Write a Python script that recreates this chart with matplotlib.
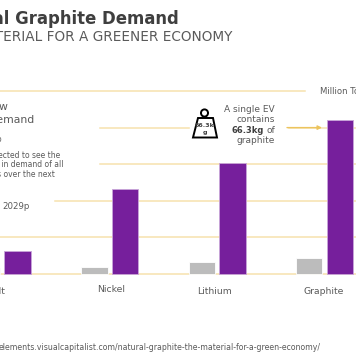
import matplotlib
matplotlib.use('Agg')
import matplotlib.pyplot as plt
from matplotlib.patches import Polygon, Circle

W, H = 356, 364

metals = ['Cobalt', 'Nickel', 'Lithium', 'Graphite']
demand_2018 = [0.16, 0.20, 0.33, 0.43]
demand_2029 = [0.63, 2.31, 3.02, 4.22]
grid_values = [0, 1, 2, 3, 4, 5]

PURPLE = '#761f9c'
GREY = '#bcbcbc'
GRID = '#f6e2ae'
TEXT = '#5a5a5a'
DARK = '#3f3f3f'

plt.rcParams['font.family'] = ['DejaVu Sans']

fig = plt.figure(figsize=(W / 100, H / 100), dpi=100)
ax = fig.add_axes([0, 0, 1, 1])
ax.axis('off')

# category 0 sits at pixel 2, spacing 107.4px; value 0 at pixel 274, 36.6px per unit
STEP = 107.4
ax.set_xlim(-2 / STEP, (W - 2) / STEP)
ax.set_ylim(-(H - 274) / 36.6, 274 / 36.6)


def cat(x):
    return (x - 2) / STEP


def px(x, y):
    return x / W, 1 - y / H


def txt(x, y, s, size, color=TEXT, ha='left', weight='normal'):
    fig.text(*px(x, y), s, fontsize=size, color=color, ha=ha, va='baseline', fontweight=weight)


# gridlines, with the gaps the annotations leave
starts = [0, 0, 55, 100, 100, 0]
for val, start in zip(grid_values, starts):
    end = 305 if val == 5 else W
    ax.plot([cat(start), cat(end)], [val, val], color=GRID, lw=1.1, zorder=1)

# white patch behind the EV note
ax.fill_between([cat(190), cat(287)], 3.55, 4.4, color='white', zorder=2)

bar_w = 26.4 / STEP
for i in range(len(metals)):
    ax.bar(i - 15 / STEP, demand_2018[i], bar_w, color=GREY, edgecolor='white', lw=0.6, zorder=3)
    ax.bar(i + 15.5 / STEP, demand_2029[i], bar_w, color=PURPLE, edgecolor='#c9a6d9', lw=0.6, zorder=3)

# header
txt(179, 24, 'Natural Graphite Demand', 11.9, DARK, ha='right', weight='bold')
txt(232, 41, 'THE MATERIAL FOR A GREENER ECONOMY', 9.85, TEXT, ha='right')
txt(320, 94, 'Million Tonnes', 6.1, TEXT)

# left note
txt(7, 110, 'w', 7.8, TEXT, ha='right')
txt(35, 123, 'Demand', 7.8, TEXT, ha='right')
txt(1, 142, 'o', 5.5, TEXT, ha='right')
txt(60, 158, 'Expected to see the', 5.5, TEXT, ha='right')
txt(64, 167, 'growth in demand of all', 5.5, TEXT, ha='right')
txt(55, 176.5, 'metals over the next', 5.5, TEXT, ha='right')
txt(2, 209, '2029p', 6.2, TEXT)

# category labels
label_x = [-9.5, 111, 214.5, 323.5]
label_y = [294, 292, 294, 294]
for name, x, y in zip(metals, label_x, label_y):
    txt(x, y, name, 6.7, TEXT, ha='center')

# EV note
for y, s in zip([112, 122.5, 143.5], ['A single EV', 'contains', 'graphite']):
    txt(275, y, s, 6.5, TEXT, ha='right')
txt(264, 133, '66.3kg', 6.0, DARK, ha='right', weight='bold')
txt(275, 133, 'of', 6.5, TEXT, ha='right')
ax.annotate('', xy=(cat(322), 4.0), xytext=(cat(287), 4.0),
            arrowprops=dict(arrowstyle='-|>', color='#ecc45e', lw=1, mutation_scale=6,
                            shrinkA=0, shrinkB=0), zorder=4)

# weight icon
tr = fig.transFigure
fig.add_artist(Polygon([px(198, 118), px(213, 118), px(217, 137.5), px(193, 137.5)], closed=True,
                       facecolor='white', edgecolor='black', lw=1.4, transform=tr))
fig.add_artist(Circle(px(204.5, 113), 3.6 / H, facecolor='white', edgecolor='black', lw=1.4, transform=tr))
txt(205, 127, '66.3k', 4.6, DARK, ha='center', weight='bold')
txt(205, 134, 'g', 4.6, DARK, ha='center', weight='bold')

# source
txt(320.5, 350, 'elements.visualcapitalist.com/natural-graphite-the-material-for-a-green-economy/', 5.6, TEXT, ha='right')

fig.savefig('out.png', dpi=100)
